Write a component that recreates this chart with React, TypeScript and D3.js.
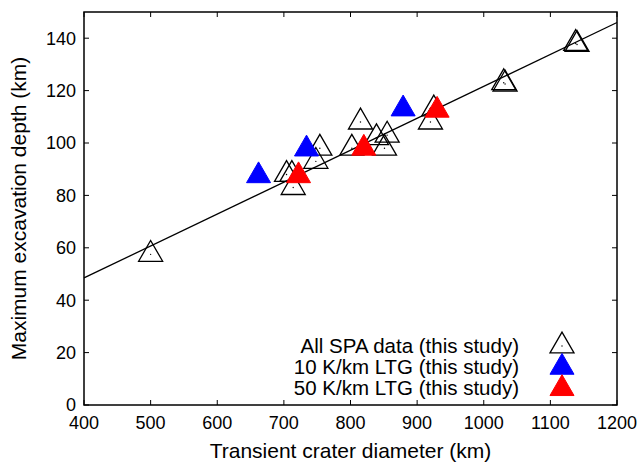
import React from "react";
import * as d3 from "d3";

const xTicks = [400, 500, 600, 700, 800, 900, 1000, 1100, 1200];
const yTicks = [0, 20, 40, 60, 80, 100, 120, 140];

const spaX = [500, 704, 712, 714, 748, 754, 802, 815, 839, 851, 855, 920, 925, 1030, 1032, 1138, 1140];
const spaY = [57.5, 88, 88, 83, 93, 98, 98, 108, 102, 98, 103, 108, 113, 123, 122.5, 138, 137.6];

const ltg10X = [662, 734, 879];
const ltg10Y = [87.5, 97.7, 113];

const ltg50X = [722, 820, 930];
const ltg50Y = [87.5, 98, 112.5];

const fitX = [400, 1200];
const fitY = [48.5, 146];

const legendLabels = ["All SPA data (this study)", "10 K/km LTG (this study)", "50 K/km LTG (this study)"];

const W = 638, H = 463;
const left = 84, right = 617, top = 12, bottom = 405;
const FONT = "'Liberation Sans', Arial, Helvetica, sans-serif";

export default function App() {
  const x = d3.scaleLinear().domain([400, 1200]).range([left, right]);
  const y = d3.scaleLinear().domain([0, 150]).range([bottom, top]);
  const tri = d3.symbol().type(d3.symbolTriangle).size(250)() as string;
  const line = d3.line<number>().x((d) => x(d)).y((_, i) => y(fitY[i]));
  const tl = 5;

  const legendRows = [
    { label: legendLabels[0], fill: "none", stroke: "#000", dot: true },
    { label: legendLabels[1], fill: "#0000ff", stroke: "#0000ff", dot: false },
    { label: legendLabels[2], fill: "#ff0000", stroke: "#ff0000", dot: false },
  ];

  return (
    <svg width={W} height={H} style={{ position: "absolute", left: 0, top: 0, background: "#fff" }} fontFamily={FONT}>
      <rect x={0} y={0} width={W} height={H} fill="#fff" />
      {/* fit line */}
      <path d={line(fitX) || ""} fill="none" stroke="#000" strokeWidth={1.3} />
      {/* ticks */}
      {xTicks.map((t) => (
        <g key={"xt" + t}>
          <line x1={x(t)} x2={x(t)} y1={bottom} y2={bottom - tl} stroke="#000" strokeWidth={1} />
          <line x1={x(t)} x2={x(t)} y1={top} y2={top + tl} stroke="#000" strokeWidth={1} />
          <text x={x(t)} y={429} textAnchor="middle" fontSize={18} fill="#000">{t}</text>
        </g>
      ))}
      {yTicks.map((t) => (
        <g key={"yt" + t}>
          <line x1={left} x2={left + tl} y1={y(t)} y2={y(t)} stroke="#000" strokeWidth={1} />
          <line x1={right} x2={right - tl} y1={y(t)} y2={y(t)} stroke="#000" strokeWidth={1} />
          <text x={76} y={y(t)} dy="0.35em" textAnchor="end" fontSize={18} fill="#000">{t}</text>
        </g>
      ))}
      {/* SPA open triangles */}
      {spaX.map((v, i) => (
        <g key={"s" + i} transform={`translate(${x(v)},${y(spaY[i])})`}>
          <path d={tri} fill="none" stroke="#000" strokeWidth={1.3} />
          <circle r={0.7} fill="#000" />
        </g>
      ))}
      {ltg10X.map((v, i) => (
        <path key={"b" + i} d={tri} transform={`translate(${x(v)},${y(ltg10Y[i])})`} fill="#0000ff" stroke="#0000ff" strokeWidth={1} />
      ))}
      {ltg50X.map((v, i) => (
        <path key={"r" + i} d={tri} transform={`translate(${x(v)},${y(ltg50Y[i])})`} fill="#ff0000" stroke="#ff0000" strokeWidth={1} />
      ))}
      {/* legend */}
      {legendRows.map((r, i) => {
        const by = 352.5 + i * 21.3;
        return (
          <g key={"l" + i}>
            <text x={519} y={by} textAnchor="end" fontSize={20.5} fill="#000">{r.label}</text>
            <g transform={`translate(562,${by - 6.5})`}>
              <path d={tri} fill={r.fill} stroke={r.stroke} strokeWidth={r.dot ? 1.3 : 1} />
              {r.dot && <circle r={0.7} fill="#000" />}
            </g>
          </g>
        );
      })}
      {/* frame */}
      <rect x={left} y={top} width={right - left} height={bottom - top} fill="none" stroke="#000" strokeWidth={1.5} />
      {/* axis titles */}
      <text x={(left + right) / 2} y={458} textAnchor="middle" fontSize={21} fill="#000">Transient crater diameter (km)</text>
      <text transform={`translate(26,${(top + bottom) / 2}) rotate(-90)`} textAnchor="middle" fontSize={21} fill="#000">Maximum excavation depth (km)</text>
    </svg>
  );
}
